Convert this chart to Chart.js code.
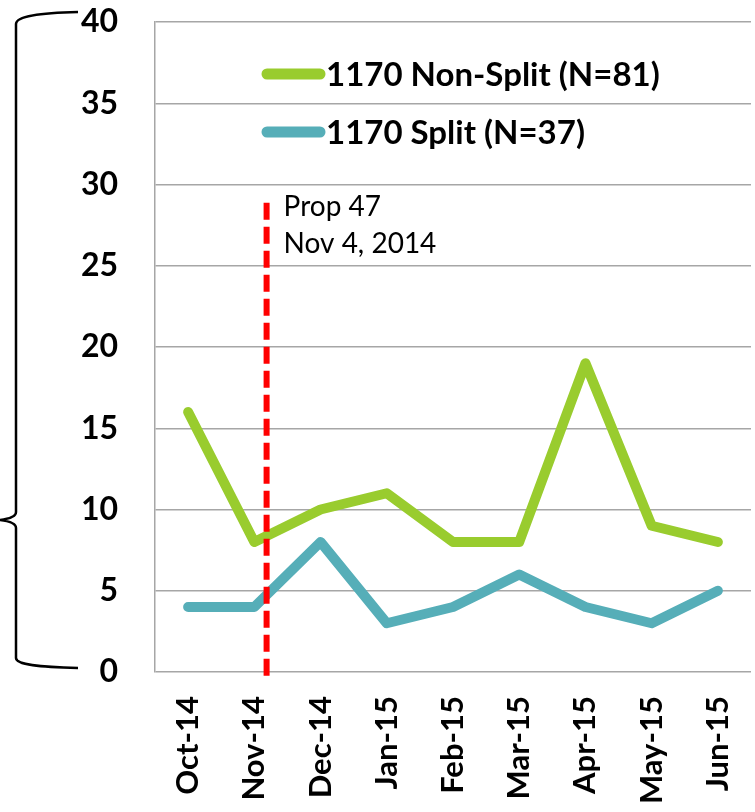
<!DOCTYPE html>
<html>
<head>
<meta charset="utf-8">
<script src="https://cdn.jsdelivr.net/npm/chart.js@4/dist/chart.umd.min.js"></script>
<style>
  html, body { margin: 0; padding: 0; background: #fff; }
  #wrap { width: 755px; height: 812px; }
</style>
</head>
<body>
<div id="wrap"><canvas id="c" width="755" height="812"></canvas></div>
<script>
// ---- data ----
const categories = ['Oct-14', 'Nov-14', 'Dec-14', 'Jan-15', 'Feb-15', 'Mar-15', 'Apr-15', 'May-15', 'Jun-15'];
const nonSplit = [16, 8, 10, 11, 8, 8, 19, 9, 8];
const split = [4, 4, 8, 3, 4, 6, 4, 3, 5];
const seriesLabels = ['1170 Non-Split (N=81)', '1170 Split (N=37)'];
const yMin = 0, yMax = 40, yStep = 5;
// event marker: Prop 47, Nov 4, 2014 (a few days into the Nov-14 category)
const eventLabel = ['Prop 47', 'Nov 4, 2014'];
const eventIndex = 1.17;
const eventTop = 29;

const GREEN = '#99CC2E';
const TEAL = '#56AEB8';
const GRID = '#A6A6A6';

const overlay = {
  id: 'overlay',
  afterDatasetsDraw(chart) {
    const ctx = chart.ctx;
    const xs = chart.scales.x, ys = chart.scales.y;
    // red dashed event line
    const ex = xs.getPixelForValue(eventIndex) + 1;
    ctx.save();
    ctx.strokeStyle = '#FF0000';
    ctx.lineWidth = 6;
    ctx.setLineDash([17, 7]);
    ctx.beginPath();
    ctx.moveTo(ex, ys.getPixelForValue(eventTop) + 2);
    ctx.lineTo(ex, ys.getPixelForValue(0) + 5);
    ctx.stroke();
    ctx.restore();

    // event text
    ctx.save();
    ctx.fillStyle = '#000';
    ctx.font = '28px Lato';
    ctx.textBaseline = 'middle';
    ctx.textAlign = 'left';
    eventLabel.forEach((t, i) => ctx.fillText(t, ex + 17, ys.getPixelForValue(eventTop) + 6 + i * 37));
    ctx.restore();

    // legend
    ctx.save();
    chart.data.datasets.forEach((ds, i) => {
      const y = 74 + i * 58;
      ctx.strokeStyle = ds.borderColor;
      ctx.lineWidth = 11;
      ctx.lineCap = 'round';
      ctx.beginPath();
      ctx.moveTo(267, y);
      ctx.lineTo(320, y);
      ctx.stroke();
      ctx.fillStyle = '#000';
      ctx.font = 'bold 33px Lato';
      ctx.textBaseline = 'middle';
      ctx.textAlign = 'left';
      ctx.fillText(ds.label, 326, y + 1);
    });
    ctx.restore();

    // curly brace at left
    const top = ys.getPixelForValue(yMax) - 10;
    const bot = ys.getPixelForValue(yMin) - 4;
    const mid = ys.getPixelForValue(9.35);
    ctx.save();
    ctx.strokeStyle = '#000';
    ctx.lineWidth = 2.5;
    ctx.beginPath();
    ctx.moveTo(78, top);
    ctx.bezierCurveTo(40, top + 1, 16, top + 4, 16, top + 12);
    ctx.lineTo(16, mid - 8);
    ctx.quadraticCurveTo(16, mid - 2, 0, mid);
    ctx.quadraticCurveTo(16, mid + 2, 16, mid + 8);
    ctx.lineTo(16, bot - 10);
    ctx.bezierCurveTo(16, bot - 3, 40, bot - 1, 78, bot);
    ctx.stroke();
    ctx.restore();
  }
};

new Chart(document.getElementById('c'), {
  type: 'line',
  data: {
    labels: categories,
    datasets: [
      { label: seriesLabels[0], data: nonSplit, borderColor: GREEN, backgroundColor: GREEN,
        borderWidth: 10, pointRadius: 0, tension: 0, borderCapStyle: 'round', borderJoinStyle: 'round' },
      { label: seriesLabels[1], data: split, borderColor: TEAL, backgroundColor: TEAL,
        borderWidth: 10, pointRadius: 0, tension: 0, borderCapStyle: 'round', borderJoinStyle: 'round' }
    ]
  },
  options: {
    responsive: false,
    animation: false,
    devicePixelRatio: 1,
    layout: { padding: { top: 22, right: 4, left: 0, bottom: 0 } },
    plugins: { legend: { display: false }, tooltip: { enabled: false } },
    scales: {
      x: {
        offset: true,
        grid: { display: false, drawTicks: false },
        border: { display: false },
        ticks: {
          color: '#000', font: { family: 'Lato', weight: 'bold', size: 31 },
          minRotation: 90, maxRotation: 90, padding: 24, autoSkip: false
        },
        afterFit(s) { s.height = 140; s.paddingLeft = 0; s.paddingRight = 0; }
      },
      y: {
        min: yMin, max: yMax,
        grid: { color: GRID, lineWidth: 1.5, drawTicks: false },
        border: { color: GRID, width: 1.5 },
        ticks: {
          stepSize: yStep, color: '#000', padding: 37,
          font: { family: 'Lato', weight: 'bold', size: 32 }
        },
        afterFit(s) { s.width = 155; s.paddingTop = 0; s.paddingBottom = 0; }
      }
    }
  },
  plugins: [overlay]
});
</script>
</body>
</html>
